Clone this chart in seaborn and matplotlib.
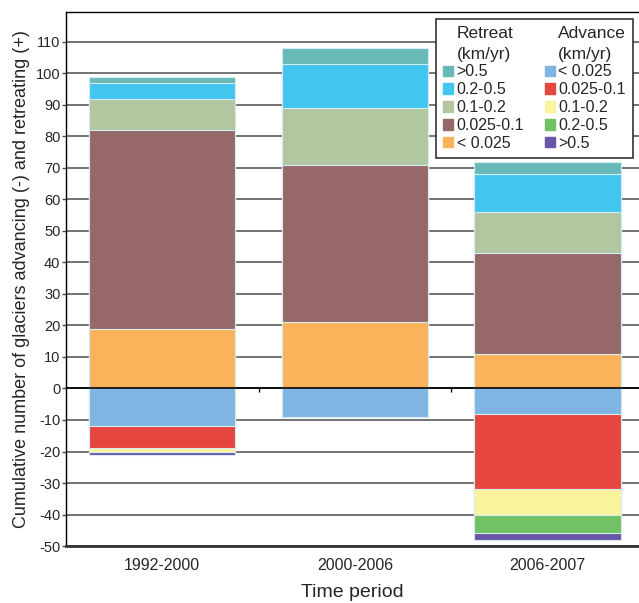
import numpy as np
import matplotlib
matplotlib.use('Agg')
import matplotlib.pyplot as plt
import matplotlib.patches as mpatches
import seaborn as sns

# Datos (número de glaciares por periodo y clase de velocidad).
periodos = ['1992-2000', '2000-2006', '2006-2007']

retroceso_lt0025 = [19, 21, 11]
retroceso_0025_01 = [63, 50, 32]
retroceso_01_02 = [10, 18, 13]
retroceso_02_05 = [5, 14, 12]
retroceso_gt05 = [2, 5, 4]

avance_lt0025 = [12, 9, 8]
avance_0025_01 = [7, 0, 24]
avance_01_02 = [1, 0, 8]
avance_02_05 = [0, 0, 6]
avance_gt05 = [1, 0, 2]

etiquetas = ['>0.5', '0.2-0.5', '0.1-0.2', '0.025-0.1', '< 0.025']
colores_retroceso = ['#67bab8', '#42c5ef', '#b2c6a0', '#966868', '#fab35a']
etiquetas_avance = ['< 0.025', '0.025-0.1', '0.1-0.2', '0.2-0.5', '>0.5']
colores_avance = ['#80b4e2', '#e54640', '#faf39e', '#72c265', '#6a56a8']

sns.set_style('white')
plt.rcParams['font.family'] = ['Liberation Sans', 'DejaVu Sans']
plt.rcParams['axes.unicode_minus'] = False

fig = plt.figure(figsize=(6.39, 6.03), dpi=100)
ax = fig.add_axes([0.1033, 0.0945, 0.8967, 0.8856])

# Barras apiladas: se dibujan los acumulados de mayor a menor.
capas_pos = [retroceso_lt0025, retroceso_0025_01, retroceso_01_02,
             retroceso_02_05, retroceso_gt05]
acum_pos = np.cumsum(np.array(capas_pos), axis=0)
cols_pos = colores_retroceso[::-1]  # de abajo hacia arriba
for i in range(len(capas_pos) - 1, -1, -1):
    sns.barplot(x=periodos, y=acum_pos[i], color=cols_pos[i], saturation=1,
                width=0.76, edgecolor='#d6ecf3', linewidth=0.8, ax=ax,
                zorder=2)

capas_neg = [avance_lt0025, avance_0025_01, avance_01_02, avance_02_05,
             avance_gt05]
acum_neg = -np.cumsum(np.array(capas_neg), axis=0)
for i in range(len(capas_neg) - 1, -1, -1):
    sns.barplot(x=periodos, y=acum_neg[i], color=colores_avance[i],
                saturation=1, width=0.76, edgecolor='#d6ecf3', linewidth=0.8,
                ax=ax, zorder=2)

# Ejes y cuadrícula.
ax.set_xlim(-0.5, 2.475)
ax.set_ylim(-50, 119.5)
ax.set_yticks(np.arange(-50, 111, 10))
ax.set_axisbelow(True)
ax.yaxis.grid(True, color='#4d4d4d', linewidth=1.1)
ax.xaxis.grid(False)
ax.axhline(0, color='black', linewidth=1.2, zorder=3)

for lado in ['left', 'top']:
    ax.spines[lado].set_color('black')
    ax.spines[lado].set_linewidth(1.0)
ax.spines['bottom'].set_color('#333333')
ax.spines['bottom'].set_linewidth(2.0)
ax.spines['right'].set_visible(False)

ax.tick_params(axis='y', which='both', left=True, length=3, width=1,
               color='#4d4d4d', labelsize=10.5, pad=1)
ax.tick_params(axis='x', bottom=False, labelsize=11.5, pad=5)

# Marcas pequeñas en la línea del cero entre categorías.
sec = ax.secondary_xaxis((0 + 50) / 169.5)
sec.set_xticks([0.5, 1.5])
sec.tick_params(axis='x', length=3, width=1, color='black',
                labelbottom=False, labeltop=False, direction='out')
sec.spines['bottom'].set_visible(False)
sec.spines['top'].set_visible(False)

ax.set_xlabel('Time period', fontsize=14, labelpad=8)
ax.set_ylabel('Cumulative number of glaciers advancing (-) and retreating (+)',
              fontsize=13, labelpad=4)

# Leyenda en dos columnas con encabezados.
vacio = mpatches.Rectangle((0, 0), 1, 1, alpha=0)
manejadores = [vacio] + [mpatches.Patch(color=c) for c in colores_retroceso]
manejadores += [vacio] + [mpatches.Patch(color=c) for c in colores_avance]
textos = ['Retreat\n(km/yr)'] + etiquetas + ['Advance\n(km/yr)'] + etiquetas_avance
ley = ax.legend(manejadores, textos, ncol=2, loc='upper right',
                bbox_to_anchor=(0.9895, 0.987), borderaxespad=0,
                fontsize=11.5, labelspacing=0.18, handlelength=0.62,
                handleheight=0.62, handletextpad=0.2, columnspacing=1.3,
                borderpad=0.45, fancybox=False, framealpha=1)
ley.get_frame().set_edgecolor('#333333')
ley.get_frame().set_linewidth(1.2)
ley.set_zorder(5)
for t in ley.get_texts():
    if 'km/yr' in t.get_text():
        t.set_fontsize(12.5)
        t.set_linespacing(1.45)

fig.savefig('out.png', dpi=100)
